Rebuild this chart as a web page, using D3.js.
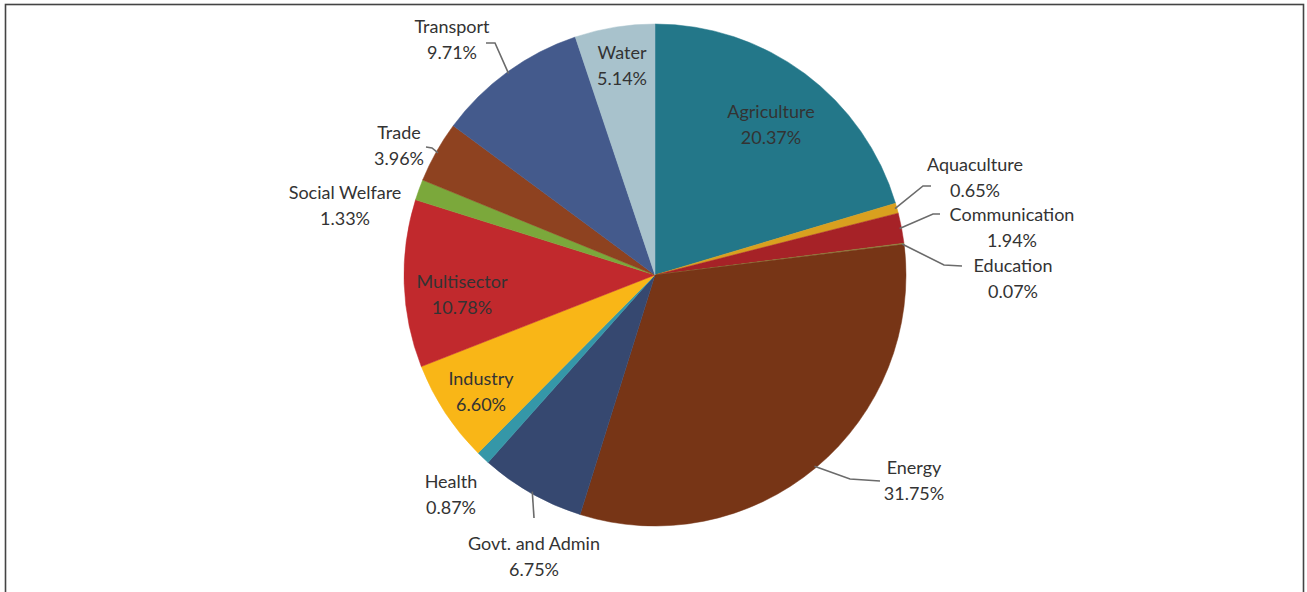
<!DOCTYPE html>
<html>
<head>
<meta charset="utf-8">
<script src="https://cdn.jsdelivr.net/npm/d3@7"></script>
<style>
  html, body { margin: 0; padding: 0; background: #fff; }
  svg { display: block; }
  text { font-family: Lato, "Open Sans", sans-serif; fill: #333; }
</style>
</head>
<body>
<svg id="chart" width="1307" height="592"></svg>
<script>
// Sector shares of the portfolio (%), clockwise from 12 o'clock
const sectors = ["Agriculture", "Aquaculture", "Communication", "Education", "Energy",
  "Govt. and Admin", "Health", "Industry", "Multisector", "Social Welfare",
  "Trade", "Transport", "Water"];
const shares = [20.37, 0.65, 1.94, 0.07, 31.75, 6.75, 0.87, 6.60, 10.78, 1.33, 3.96, 9.71, 5.14];
const labels = ["20.37%", "0.65%", "1.94%", "0.07%", "31.75%", "6.75%", "0.87%", "6.60%",
  "10.78%", "1.33%", "3.96%", "9.71%", "5.14%"];

const colors = ["#237789", "#d9a01f", "#a62227", "#8f8a3c", "#773516", "#364870", "#3597a8",
  "#f9b617", "#c1292d", "#7ba83b", "#8e4220", "#445a8c", "#a8c2cc"];

// Label placement: centre of the two-line label and optional leader-line path
// (leader starts on the slice rim, given as extra points after it)
const labelLayout = {
  "Agriculture":     { x: 771, y: 124 },
  "Aquaculture":     { x: 975, y: 177, leader: [[923, 186], [931, 186]] },
  "Communication":   { x: 1012, y: 227, leader: [[933, 214], [940, 214]] },
  "Education":       { x: 1013, y: 278, leader: [[944, 265], [962, 266]] },
  "Energy":          { x: 914, y: 480, leader: [[850, 479], [880, 481]] },
  "Govt. and Admin": { x: 534, y: 556, leader: [[534, 518]] },
  "Health":          { x: 451, y: 494 },
  "Industry":        { x: 481, y: 391 },
  "Multisector":     { x: 462, y: 294 },
  "Social Welfare":  { x: 345, y: 205 },
  "Trade":           { x: 399, y: 145, leader: [[432, 148], [426, 147]] },
  "Transport":       { x: 452, y: 39, leader: [[495, 43], [486, 43]] },
  "Water":           { x: 622, y: 65 }
};

const svg = d3.select("#chart");
const cx = 655, cy = 275, radius = 251;

// frame
svg.append("rect")
  .attr("x", 5.5).attr("y", 4.5)
  .attr("width", 1298).attr("height", 600)
  .attr("fill", "none").attr("stroke", "#444").attr("stroke-width", 1.6);

const data = sectors.map((s, i) => ({ sector: s, value: shares[i], label: labels[i], color: colors[i] }));

const pie = d3.pie().value(d => d.value).sort(null);
const arcs = pie(data);
const arc = d3.arc().innerRadius(0).outerRadius(radius);

const g = svg.append("g").attr("transform", `translate(${cx},${cy})`);

g.selectAll("path.slice")
  .data(arcs)
  .join("path")
  .attr("class", "slice")
  .attr("d", arc)
  .attr("fill", d => d.data.color)
  .attr("stroke", d => d.data.color)
  .attr("stroke-width", 0.5);

// leader lines: start at slice rim mid-angle
arcs.forEach(a => {
  const lay = labelLayout[a.data.sector];
  if (!lay.leader) return;
  const mid = (a.startAngle + a.endAngle) / 2;
  const start = [cx + (radius - 2) * Math.sin(mid), cy - (radius - 2) * Math.cos(mid)];
  const pts = [start].concat(lay.leader);
  svg.append("path")
    .attr("d", d3.line()(pts))
    .attr("fill", "none")
    .attr("stroke", "#6b6b6b")
    .attr("stroke-width", 1.6);
});

// labels
arcs.forEach(a => {
  const lay = labelLayout[a.data.sector];
  const t = svg.append("text")
    .attr("text-anchor", "middle")
    .attr("font-size", 18);
  t.append("tspan").attr("x", lay.x).attr("y", lay.y - 6).text(a.data.sector);
  t.append("tspan").attr("x", lay.x).attr("y", lay.y + 20).text(a.data.label);
});
</script>
</body>
</html>
